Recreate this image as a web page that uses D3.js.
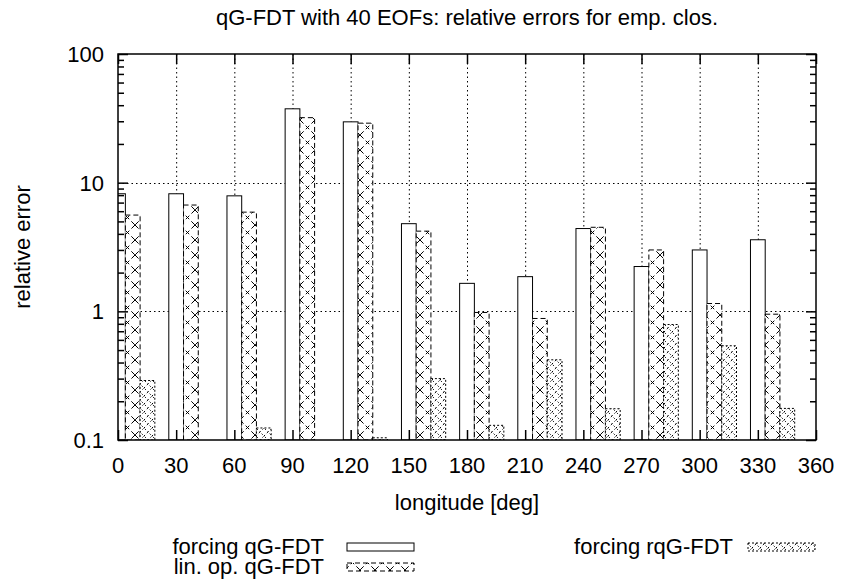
<!DOCTYPE html>
<html>
<head>
<meta charset="utf-8">
<script src="https://cdn.jsdelivr.net/npm/d3@7"></script>
<style>
	body { margin: 0; background: #fff; }
	text { font-family: "Liberation Sans", Arial, Helvetica, sans-serif; fill: #000; }
</style>
</head>
<body>
<svg id="chart" width="841" height="587"></svg>
<script>

// longitudes of the bar groups
const longitudes = [0, 30, 60, 90, 120, 150, 180, 210, 240, 270, 300, 330];

// relative errors (null = below 0.1, not visible)
const forcing_qg = [8.2, 8.2, 7.9, 37.5, 29.7, 4.8, 1.65, 1.86, 4.4, 2.23, 3.0, 3.6];
const linop_qg = [5.6, 6.7, 5.9, 32, 29, 4.2, 0.98, 0.88, 4.5, 3.0, 1.15, 0.95];
const forcing_rqg = [0.29, null, 0.124, null, 0.104, 0.3, 0.13, 0.42, 0.175, 0.79, 0.54, 0.176];

const x_ticks = [0, 30, 60, 90, 120, 150, 180, 210, 240, 270, 300, 330, 360];
const y_ticks = [0.1, 1, 10, 100];
const series_names = ["forcing qG-FDT", "lin. op. qG-FDT", "forcing rqG-FDT"];

const title = "qG-FDT with 40 EOFs: relative errors for emp. clos.";
const x_label = "longitude [deg]";
const y_label = "relative error";

function whenDocumentLoaded(action) {
	if (document.readyState === "loading") {
		document.addEventListener("DOMContentLoaded", action);
	} else {
		action();
	}
}

function drawChart() {
	const svg = d3.select("#chart");
	const left = 118, right = 816, top = 54, bottom = 440;
	const font = 22;

	const x = d3.scaleLinear().domain([0, 360]).range([left, right]);
	const y = d3.scaleLog().domain([0.1, 100]).range([bottom, top]);

	// fill patterns imitating the gnuplot hatches
	const defs = svg.append("defs");
	const p1 = defs.append("pattern").attr("id", "hatch-cross")
		.attr("patternUnits", "userSpaceOnUse").attr("width", 15).attr("height", 15);
	p1.append("rect").attr("width", 15).attr("height", 15).attr("fill", "#fff");
	p1.append("path").attr("d", "M0,0L15,15M15,0L0,15")
		.attr("stroke", "#000").attr("stroke-width", 1).attr("stroke-dasharray", "5,3");

	const p2 = defs.append("pattern").attr("id", "hatch-dots")
		.attr("patternUnits", "userSpaceOnUse").attr("width", 8).attr("height", 8);
	p2.append("rect").attr("width", 8).attr("height", 8).attr("fill", "#fff");
	p2.append("path").attr("d", "M0,4L4,0L8,4L4,8Z")
		.attr("fill", "none").attr("stroke", "#000").attr("stroke-width", 1).attr("stroke-dasharray", "1.5,2.5");

	defs.append("clipPath").attr("id", "plot-clip")
		.append("rect").attr("x", left).attr("y", top).attr("width", right - left).attr("height", bottom - top);

	// grid
	const grid = svg.append("g").attr("stroke", "#000").attr("stroke-width", 1).attr("stroke-dasharray", "1.5,3");
	grid.selectAll("line.v").data(x_ticks.filter(d => d > 0 && d < 360)).join("line")
		.attr("x1", d => x(d) + 0.5).attr("x2", d => x(d) + 0.5)
		.attr("y1", top).attr("y2", bottom);
	grid.selectAll("line.h").data([1, 10]).join("line")
		.attr("x1", left).attr("x2", right)
		.attr("y1", d => Math.round(y(d)) + 0.5).attr("y2", d => Math.round(y(d)) + 0.5);

	// bars
	const bw = 7.6;
	const series = [
		{ values: forcing_qg, offset: 0, fill: "#fff", dash: null },
		{ values: linop_qg, offset: 1, fill: "url(#hatch-cross)", dash: "5,3" },
		{ values: forcing_rqg, offset: 2, fill: "url(#hatch-dots)", dash: "2,2" },
	];
	const bars = svg.append("g").attr("clip-path", "url(#plot-clip)");
	series.forEach(s => {
		const data = longitudes.map((lon, i) => ({ lon: lon, v: s.values[i] })).filter(d => d.v !== null);
		bars.append("g").selectAll("rect").data(data).join("rect")
			.attr("x", d => x(d.lon - bw / 2 + s.offset * bw))
			.attr("width", x(bw) - x(0))
			.attr("y", d => y(d.v))
			.attr("height", d => bottom - y(d.v))
			.attr("fill", s.fill)
			.attr("stroke", "#000").attr("stroke-width", 1)
			.attr("stroke-dasharray", s.dash);
	});

	// axes with inward ticks on all four sides
	const minor = [];
	[0.1, 1, 10].forEach(dec => { for (let k = 2; k <= 9; k++) minor.push(dec * k); });

	const axisLeft = d3.axisRight(y).tickValues(y_ticks).tickSize(10).tickFormat("");
	const axisLeftMinor = d3.axisRight(y).tickValues(minor).tickSize(6).tickFormat("");
	const axisRight = d3.axisLeft(y).tickValues(y_ticks).tickSize(10).tickFormat("");
	const axisRightMinor = d3.axisLeft(y).tickValues(minor).tickSize(6).tickFormat("");
	const axisBottom = d3.axisTop(x).tickValues(x_ticks).tickSize(10).tickFormat("");
	const axisTop = d3.axisBottom(x).tickValues(x_ticks).tickSize(10).tickFormat("");

	[
		[axisLeft, `translate(${left},0)`], [axisLeftMinor, `translate(${left},0)`],
		[axisRight, `translate(${right},0)`], [axisRightMinor, `translate(${right},0)`],
		[axisBottom, `translate(0,${bottom})`], [axisTop, `translate(0,${top})`],
	].forEach(a => {
		const g = svg.append("g").attr("transform", a[1]).call(a[0]);
		g.select(".domain").remove();
		g.selectAll("line").attr("stroke", "#000").attr("stroke-width", 1.5);
	});

	svg.append("rect").attr("x", left).attr("y", top)
		.attr("width", right - left).attr("height", bottom - top)
		.attr("fill", "none").attr("stroke", "#000").attr("stroke-width", 1.5);

	// tick labels
	svg.append("g").selectAll("text").data(x_ticks).join("text")
		.attr("x", d => x(d)).attr("y", 473)
		.attr("text-anchor", "middle").attr("font-size", font)
		.text(d => d);
	svg.append("g").selectAll("text").data(y_ticks).join("text")
		.attr("x", 104).attr("y", d => y(d) + 8)
		.attr("text-anchor", "end").attr("font-size", font)
		.text(d => d);

	// titles
	svg.append("text").attr("x", (left + right) / 2).attr("y", 25)
		.attr("text-anchor", "middle").attr("font-size", font).text(title);
	svg.append("text").attr("x", (left + right) / 2).attr("y", 510)
		.attr("text-anchor", "middle").attr("font-size", font).text(x_label);
	svg.append("text").attr("transform", "translate(30,247) rotate(-90)")
		.attr("text-anchor", "middle").attr("font-size", font).text(y_label);

	// legend (rows sit as tight as in the original)
	const legend = [
		{ tx: 324, ty: 547, sx: 347, fill: "#fff", dash: null },
		{ tx: 324, ty: 567, sx: 347, fill: "url(#hatch-cross)", dash: "5,3" },
		{ tx: 733, ty: 547, sx: 748, fill: "url(#hatch-dots)", dash: "2,2" },
	];
	legend.forEach((l, i) => {
		svg.append("text").attr("x", l.tx).attr("y", l.ty + 7)
			.attr("text-anchor", "end").attr("font-size", font).text(series_names[i]);
		svg.append("rect").attr("x", l.sx).attr("y", l.ty - 4)
			.attr("width", 67).attr("height", 8)
			.attr("fill", l.fill).attr("stroke", "#000").attr("stroke-width", 1)
			.attr("stroke-dasharray", l.dash);
	});
}

whenDocumentLoaded(drawChart);
</script>
</body>
</html>
